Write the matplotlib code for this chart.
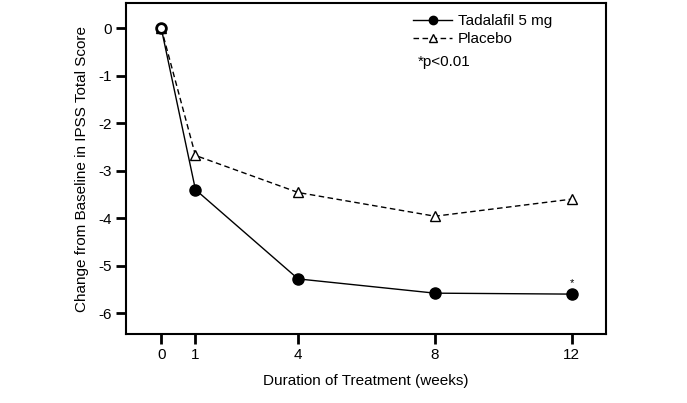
import matplotlib.pyplot as plt

plt.rcParams['font.family'] = ['Liberation Sans', 'DejaVu Sans']

# weeks and mean change in IPSS total score
weeks = [0, 1, 4, 8, 12]
tadalafil = [0, -3.4, -5.28, -5.58, -5.6]
placebo = [0, -2.68, -3.46, -3.96, -3.6]
xtick_labels = ['0', '1', '4', '8', '12']

fs = 11

fig = plt.figure(figsize=(6.87, 4.03), dpi=100)
ax = fig.add_axes([126 / 687, 1 - 334 / 403, 480 / 687, 331 / 403])

ax.plot(weeks, placebo, color='black', lw=1, ls=(0, (4, 2.5)), marker='^',
        ms=7, mfc='white', mec='black', mew=1, label='Placebo')
ax.plot(weeks[1:], tadalafil[1:], color='black', lw=1, marker='o', ms=8,
        label='Tadalafil 5 mg')
ax.plot(weeks[:2], tadalafil[:2], color='black', lw=1)
# baseline point drawn open
ax.plot(weeks[0], tadalafil[0], marker='o', ms=7, mfc='white', mec='black',
        mew=2, ls='none')

ax.text(weeks[-1], tadalafil[-1] + 0.12, '*', ha='center', va='bottom', fontsize=8)

ax.set_xlim(-1.03, 13.0)
ax.set_ylim(-6.44, 0.53)
ax.set_xticks(weeks)
ax.set_xticklabels(xtick_labels)
ax.set_yticks(range(0, -7, -1))
ax.set_yticklabels([str(v) for v in range(0, -7, -1)])
ax.tick_params(axis='both', width=2, length=7, labelsize=fs)
ax.tick_params(axis='x', pad=3)
ax.tick_params(axis='y', pad=3)
for s in ax.spines.values():
    s.set_linewidth(1.5)

ax.set_xlabel('Duration of Treatment (weeks)', fontsize=fs, labelpad=9)
ax.set_ylabel('Change from Baseline in IPSS Total Score', fontsize=fs, labelpad=7)

h, l = ax.get_legend_handles_labels()
ax.legend(h[::-1], l[::-1], loc='upper left', bbox_to_anchor=(0.575, 1.0),
          frameon=False, fontsize=fs, handlelength=2.5, handletextpad=0.4,
          labelspacing=0.25, borderaxespad=0.35, markerscale=0.75)
ax.text(0.608, 0.822, '*p<0.01', transform=ax.transAxes, fontsize=fs,
        va='center')

fig.savefig('out.png', dpi=100)
